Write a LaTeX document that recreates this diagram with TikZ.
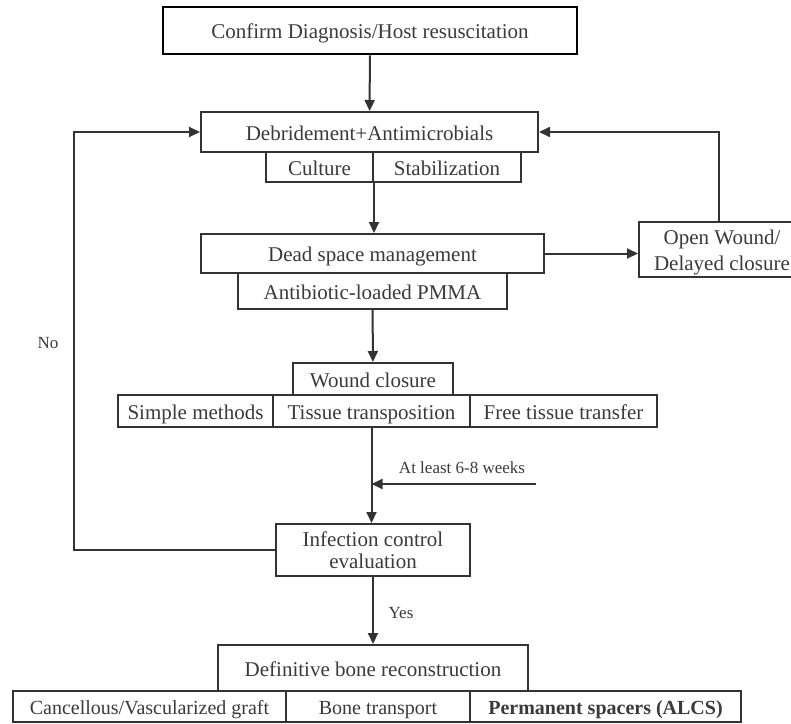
\documentclass[tikz,border=0pt]{standalone}
\usepackage{fontspec}
\setmainfont{Liberation Serif}
\usetikzlibrary{arrows.meta}
\definecolor{lc}{HTML}{333333}
\definecolor{tc}{HTML}{3A3A3A}
\begin{document}
\begin{tikzpicture}[x=1pt,y=-1pt,
 mbox/.style={draw=lc, line width=2pt, inner sep=0pt, font=\fontsize{21}{26}\selectfont, text=tc, align=center},
 box/.style={mbox, text height=17pt, text depth=1pt},
 sbox/.style={box, font=\fontsize{20}{24}\selectfont},
 arr/.style={draw=lc, line width=2pt, -{Triangle[length=11pt,width=10pt]}},
 lbl/.style={font=\fontsize{17}{20}\selectfont, text=tc, inner sep=0pt}]
\useasboundingbox (0,0) rectangle (791,723);
\clip (0,0) rectangle (791,723);
% nodes
\node[box, draw=black, line width=2.8pt, minimum width=414pt, minimum height=47pt] (confirm) at (370,30.5) {Confirm Diagnosis/Host resuscitation};
\node[box, minimum width=337pt, minimum height=40pt] (debr) at (369.5,132) {Debridement+Antimicrobials};
\node[box, minimum width=107pt, minimum height=30pt] (culture) at (319.5,167) {Culture};
\node[box, minimum width=148pt, minimum height=30pt] (stab) at (447,167) {Stabilization};
\node[box, minimum width=343pt, minimum height=39pt] (dead) at (372.5,253.5) {Dead space management};
\node[box, minimum width=269pt, minimum height=36pt] (pmma) at (372.5,291) {Antibiotic-loaded PMMA};
\node[mbox, minimum width=166pt, minimum height=55pt] (open) at (722,249.5) {\rule{0pt}{21pt}Open Wound/\\Delayed closure};
\node[box, minimum width=160pt, minimum height=32pt] (wound) at (373,379) {Wound closure};
\node[box, minimum width=155pt, minimum height=32pt] (simple) at (195.5,411) {Simple methods};
\node[box, minimum width=197pt, minimum height=32pt] (tissue) at (371.5,411) {Tissue transposition};
\node[box, minimum width=187pt, minimum height=32pt] (free) at (563.5,411) {Free tissue transfer};
\node[mbox, minimum width=194pt, minimum height=52pt, font=\fontsize{21}{22}\selectfont] (infect) at (373,550) {Infection control\\evaluation};
\node[box, minimum width=310pt, minimum height=46pt] (defin) at (373,668) {Definitive bone reconstruction};
\node[sbox, minimum width=273pt, minimum height=31pt] (canc) at (149.5,706.5) {Cancellous/Vascularized graft};
\node[sbox, minimum width=184pt, minimum height=31pt] (bone) at (378,706.5) {Bone transport};
\node[sbox, minimum width=271pt, minimum height=31pt] (perm) at (605.5,706.5) {\textbf{Permanent spacers (ALCS)}};
% labels
\node[lbl] (no) at (48,343) {No};
\node[lbl] (weeks) at (462,468) {At least 6-8 weeks};
\node[lbl] (yes) at (401,613) {Yes};
% coordinates
\coordinate (wk) at (536,484);
\coordinate (rtop) at (719,132);
\coordinate (ltop) at (74,132);
% connectors
\draw[arr] (confirm) -- (debr);
\draw[arr] (culture.south east) -- (culture.south east |- dead.north);
\draw[arr] (pmma) -- (wound);
\draw[arr] (tissue.south) -- (tissue.south |- infect.north);
\draw[arr] (wk) -- (wk -| tissue.south);
\draw[arr] (infect) -- (defin);
\draw[arr] (dead.east) -- (open.west |- dead.east);
\draw[arr] (open.north -| rtop) -- (rtop) -- (debr.east);
\draw[arr] (infect.west) -- (infect.west -| ltop) -- (ltop) -- (debr.west);
\end{tikzpicture}
\end{document}
